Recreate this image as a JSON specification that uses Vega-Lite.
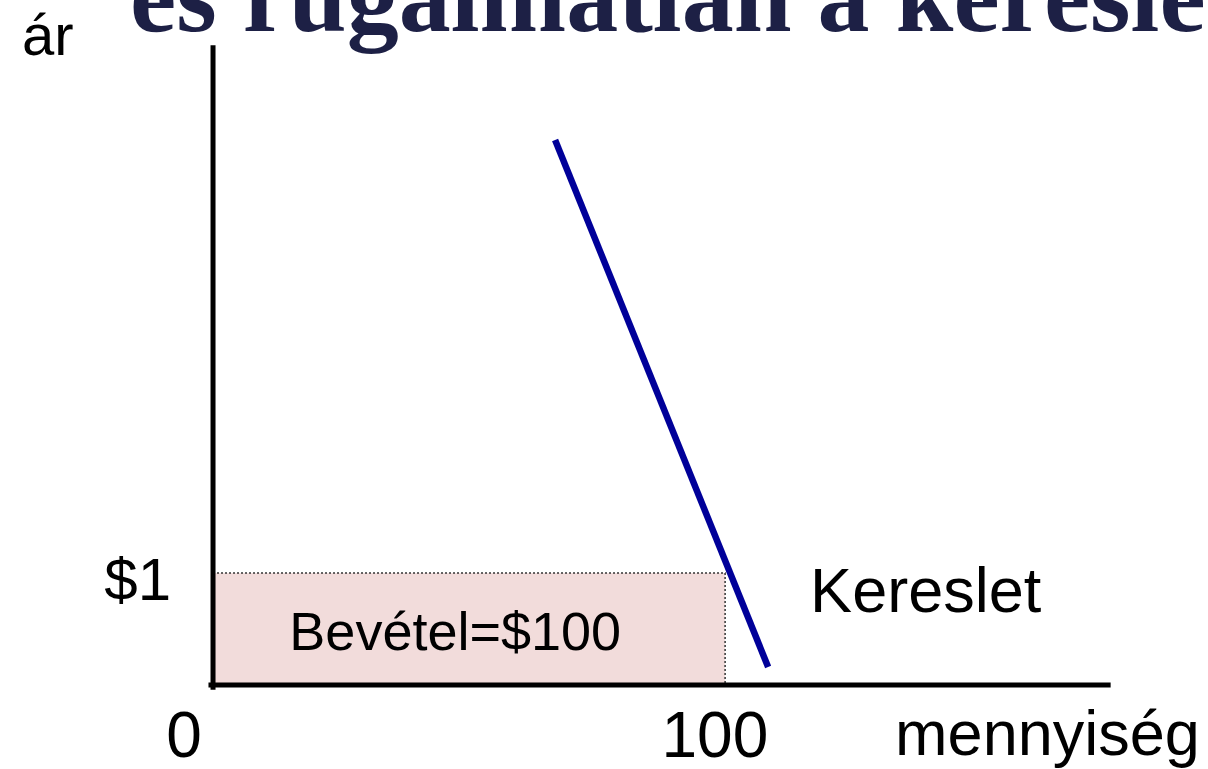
{
  "$schema": "https://vega.github.io/schema/vega-lite/v6.json",
  "width": 1208,
  "height": 769,
  "autosize": {"type": "none"},
  "padding": 0,
  "background": "white",
  "config": {"view": {"stroke": null}},
  "datasets": {
    "revenue": [{"q": 0, "q2": 100, "p": 0, "p2": 1}],
    "axes": [
      {"name": "y", "q": 0, "p": -0.02, "q2": 0, "p2": 5.69},
      {"name": "x", "q": -0.4, "p": 0, "q2": 174.8, "p2": 0}
    ],
    "demand": [
      {"q": 66.8, "p": 4.866},
      {"q": 108.4, "p": 0.161}
    ],
    "texts": [
      {"role": "title", "label": "és rugalmatlan a kereslet", "q": -16.2, "p": 5.84},
      {"role": "yname", "label": "ár", "q": -37.3, "p": 5.625},
      {"role": "ytick", "label": "$1", "q": -8.2, "p": 0.76},
      {"role": "xtick", "label": "0", "q": -5.66, "p": -0.643},
      {"role": "xtick", "label": "100", "q": 98.0, "p": -0.643},
      {"role": "name", "label": "mennyiség", "q": 133.2, "p": -0.625},
      {"role": "name", "label": "Kereslet", "q": 116.6, "p": 0.652},
      {"role": "area", "label": "Bevétel=$100", "q": 47.3, "p": 0.3125}
    ]
  },
  "encoding": {
    "x": {"field": "q", "type": "quantitative", "scale": {"domain": [-41.6, 194.3], "nice": false, "zero": false}, "axis": null},
    "y": {"field": "p", "type": "quantitative", "scale": {"domain": [-0.75, 6.116], "nice": false, "zero": false}, "axis": null}
  },
  "layer": [
    {
      "data": {"name": "revenue"},
      "mark": {"type": "rect", "fill": "#f2dcdb", "stroke": "#333333", "strokeWidth": 1.5, "strokeDash": [2, 2]},
      "encoding": {"x2": {"field": "q2"}, "y2": {"field": "p2"}}
    },
    {
      "data": {"name": "axes"},
      "mark": {"type": "rule", "color": "black", "strokeWidth": 5, "strokeCap": "square"},
      "encoding": {"x2": {"field": "q2"}, "y2": {"field": "p2"}}
    },
    {
      "data": {"name": "demand"},
      "mark": {"type": "line", "color": "#000099", "strokeWidth": 6.5, "strokeCap": "butt"},
      "encoding": {}
    },
    {
      "data": {"name": "texts"},
      "transform": [{"filter": "datum.role === 'title'"}],
      "mark": {"type": "text", "font": "Liberation Serif", "fontWeight": "bold", "fontSize": 104, "color": "#1d2045", "align": "left", "baseline": "alphabetic"},
      "encoding": {"text": {"field": "label"}}
    },
    {
      "data": {"name": "texts"},
      "transform": [{"filter": "datum.role === 'yname'"}],
      "mark": {"type": "text", "font": "Liberation Sans", "fontSize": 58, "color": "black", "align": "left", "baseline": "alphabetic"},
      "encoding": {"text": {"field": "label"}}
    },
    {
      "data": {"name": "texts"},
      "transform": [{"filter": "datum.role === 'ytick'"}],
      "mark": {"type": "text", "font": "Liberation Sans", "fontSize": 60, "color": "black", "align": "right", "baseline": "alphabetic"},
      "encoding": {"text": {"field": "label"}}
    },
    {
      "data": {"name": "texts"},
      "transform": [{"filter": "datum.role === 'xtick'"}],
      "mark": {"type": "text", "font": "Liberation Sans", "fontSize": 64, "color": "black", "align": "center", "baseline": "alphabetic"},
      "encoding": {"text": {"field": "label"}}
    },
    {
      "data": {"name": "texts"},
      "transform": [{"filter": "datum.role === 'name'"}],
      "mark": {"type": "text", "font": "Liberation Sans", "fontSize": 63, "color": "black", "align": "left", "baseline": "alphabetic"},
      "encoding": {"text": {"field": "label"}}
    },
    {
      "data": {"name": "texts"},
      "transform": [{"filter": "datum.role === 'area'"}],
      "mark": {"type": "text", "font": "Liberation Sans", "fontSize": 54, "color": "black", "align": "center", "baseline": "alphabetic"},
      "encoding": {"text": {"field": "label"}}
    }
  ]
}
